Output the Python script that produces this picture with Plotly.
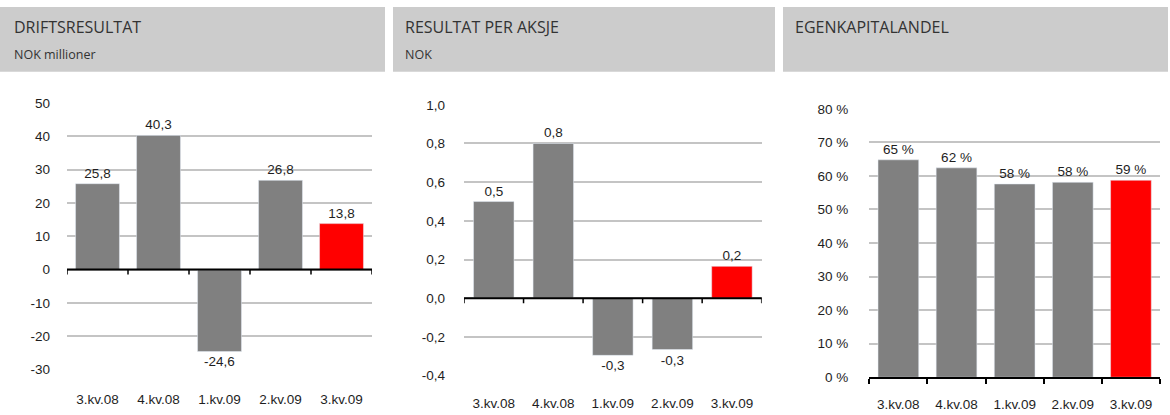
import plotly.graph_objects as go

W, H = 1170, 415
# the photographed page shows layout pixel y at about OFF + SC * y
OFF, SC = 7.25, 0.964
HL = round((H - OFF) / SC)

categories = ["3.kv.08", "4.kv.08", "1.kv.09", "2.kv.09", "3.kv.09"]

drift_values = [25.8, 40.3, -24.6, 26.8, 13.8]
eps_values = [0.5, 0.8, -0.295, -0.265, 0.165]
equity_values = [64.8, 62.4, 57.6, 58.1, 58.7]

titles = ["DRIFTSRESULTAT", "RESULTAT PER AKSJE", "EGENKAPITALANDEL"]
subtitles = ["NOK millioner", "NOK", ""]

drift_ticks = [50, 40, 30, 20, 10, 0, -10, -20, -30]
drift_ticktext = ["50", "40", "30", "20", "10", "0", "-10", "-20", "-30"]
eps_ticks = [1.0, 0.8, 0.6, 0.4, 0.2, 0.0, -0.2, -0.4]
eps_ticktext = ["1,0", "0,8", "0,6", "0,4", "0,2", "0,0", "-0,2", "-0,4"]
equity_ticks = [80, 70, 60, 50, 40, 30, 20, 10, 0]
equity_ticktext = ["80 %", "70 %", "60 %", "50 %", "40 %", "30 %", "20 %", "10 %", "0 %"]

GRAY = "#808080"
RED = "#FF0000"
colors = [GRAY, GRAY, GRAY, GRAY, RED]
TXT = "#1e1e1e"
NUMFONT = dict(family="Liberation Sans, Arial, sans-serif", size=13.5, color=TXT)


def fmt1(v):
    return f"{v:.1f}".replace(".", ",")


def px_x(a, b):
    return [a / W, b / W]


def py(p):
    lp = (p - OFF) / SC
    return min(1.0, max(0.0, 1 - lp / HL))


def px_y(top, bottom):
    return [py(bottom), py(top)]


fig = go.Figure()

fig.add_trace(go.Bar(x=categories, y=drift_values, marker_color=colors, width=0.72,
                     text=[fmt1(v) for v in drift_values], textposition="outside",
                     textfont=NUMFONT, cliponaxis=False, xaxis="x", yaxis="y"))
fig.add_trace(go.Bar(x=categories, y=eps_values, marker_color=colors, width=0.68,
                     text=[fmt1(v) for v in eps_values], textposition="outside",
                     textfont=NUMFONT, cliponaxis=False, xaxis="x2", yaxis="y2"))
fig.add_trace(go.Bar(x=categories, y=equity_values, marker_color=colors, width=0.70,
                     text=[f"{v:.0f} %" for v in equity_values], textposition="outside",
                     textfont=NUMFONT, cliponaxis=False, xaxis="x3", yaxis="y3"))

grid = dict(showgrid=True, gridcolor="#C4C4C4", gridwidth=1.5, zeroline=False,
            showline=False, ticks="", tickfont=NUMFONT, fixedrange=True)
xcommon = dict(showgrid=False, zeroline=False, tickfont=NUMFONT, fixedrange=True,
               type="category", range=[-0.5, 4.5])

layout = dict(
    width=W, height=HL, margin=dict(l=0, r=0, t=0, b=0),
    paper_bgcolor="white", plot_bgcolor="white", showlegend=False,
    font=dict(family="Liberation Sans, Arial, sans-serif", color=TXT),
    xaxis=dict(domain=px_x(67, 372), anchor="y", showline=False, ticks="",
               ticklabelstandoff=20, **xcommon),
    yaxis=dict(domain=px_y(103.3, 369.5), anchor="x", range=[-30, 50],
               tickvals=drift_ticks, ticktext=drift_ticktext, ticklabelstandoff=16, **grid),
    xaxis2=dict(domain=px_x(464, 761.7), anchor="y2", showline=False, ticks="",
                ticklabelstandoff=18, **xcommon),
    yaxis2=dict(domain=px_y(105, 375.7), anchor="x2", range=[-0.4, 1.0],
                tickvals=eps_ticks, ticktext=eps_ticktext, ticklabelstandoff=18, **grid),
    xaxis3=dict(domain=px_x(869.3, 1160), anchor="y3", showline=True, linecolor="black",
                linewidth=2, ticks="outside", tickson="boundaries", ticklen=5,
                tickcolor="black", tickwidth=1.5, ticklabelstandoff=14, **xcommon),
    yaxis3=dict(domain=px_y(109, 377.3), anchor="x3", range=[0, 80],
                tickvals=equity_ticks, ticktext=equity_ticktext, ticklabelstandoff=20, **grid),
)

shapes = []
annotations = []

# header boxes
boxes = [(0, 385), (393, 775), (783, 1168)]
title_x = [12, 403, 793]
for (a, b), tx, t, s in zip(boxes, title_x, titles, subtitles):
    shapes.append(dict(type="rect", xref="paper", yref="paper", x0=a / W, x1=b / W,
                       y0=py(72), y1=py(7), fillcolor="#CCCCCC", line_width=0,
                       layer="below"))
    annotations.append(dict(xref="paper", yref="paper", x=tx / W, y=py(27), text=t,
                            showarrow=False, xanchor="left", yanchor="middle",
                            font=dict(family="Open Sans, sans-serif", size=16, color="#333333")))
    if s:
        annotations.append(dict(xref="paper", yref="paper", x=tx / W, y=py(55), text=s,
                                showarrow=False, xanchor="left", yanchor="middle",
                                font=dict(family="Open Sans, sans-serif", size=12.5, color="#333333")))

# category axis at zero for first two charts
for xr, yr in (("x", "y"), ("x2", "y2")):
    shapes.append(dict(type="line", xref=f"{xr} domain", yref=yr, x0=0, x1=1, y0=0, y1=0,
                       line=dict(color="black", width=2), layer="above"))
    for i in range(len(categories) + 1):
        shapes.append(dict(type="line", xref=xr, yref=yr, ysizemode="pixel", yanchor=0,
                           x0=i - 0.5, x1=i - 0.5, y0=0, y1=-5,
                           line=dict(color="black", width=1.5), layer="above"))

layout["shapes"] = shapes
layout["annotations"] = annotations
fig.update_layout(**layout)

fig.write_html(
    "out.html",
    config={"displayModeBar": False},
    post_script=(
        "document.documentElement.style.margin='0';"
        "document.documentElement.style.overflow='hidden';"
        "document.body.style.margin='0';document.body.style.padding='0';"
        "document.body.style.overflow='hidden';"
        "var d=document.getElementById('{plot_id}');"
        "d.style.position='fixed';d.style.top='0px';d.style.left='0px';"
    ),
)
